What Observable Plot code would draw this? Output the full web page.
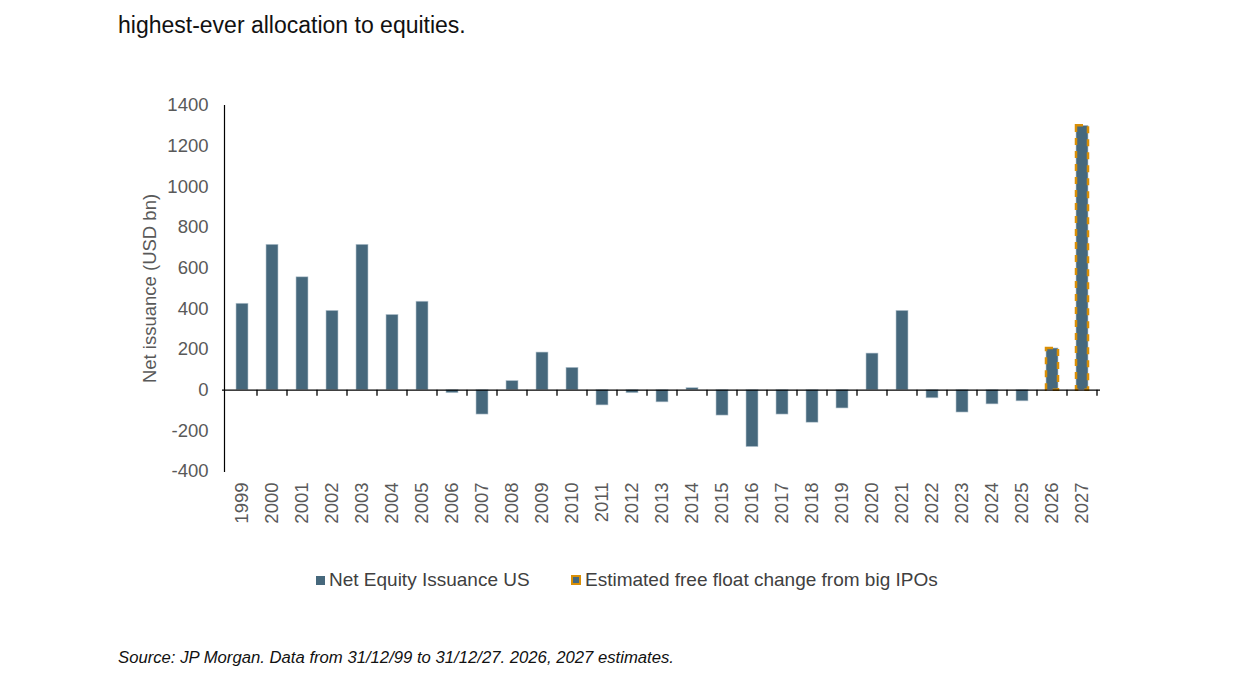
<!DOCTYPE html>
<html>
<head>
<meta charset="utf-8">
<script src="https://cdn.jsdelivr.net/npm/d3@7"></script>
<script src="https://cdn.jsdelivr.net/npm/@observablehq/plot@0.6"></script>
<style>
  html, body { margin: 0; padding: 0; background: #fff; }
  #page { position: relative; width: 1241px; height: 680px; font-family: "Liberation Sans", Arial, sans-serif; }
  #title { position: absolute; left: 118px; top: 12px; font-size: 23px; color: #111; white-space: nowrap; }
  #chart { position: absolute; left: 0; top: 60px; }
  #legend { position: absolute; left: 0; top: 569px; width: 1241px; font-size: 19px; color: #404040; }
  .item { position: absolute; top: 0; white-space: nowrap; display: flex; align-items: center; }
  .sw { display: inline-block; width: 9px; height: 9px; margin-right: 4px; box-sizing: border-box; }
  #caption { position: absolute; left: 118px; top: 648px; font-size: 16.7px; font-style: italic; color: #111; white-space: nowrap; }
</style>
</head>
<body>
<div id="page">
  <div id="title">highest-ever allocation to equities.</div>
  <div id="chart"></div>
  <div id="legend">
    <div class="item" style="left:316px"><span class="sw" style="background:#46687c"></span>Net Equity Issuance US</div>
    <div class="item" style="left:571px"><span class="sw" style="background:#46687c;border:2px solid #d98f06;width:10px;height:10px"></span>Estimated free float change from big IPOs</div>
  </div>
  <div id="caption">Source: JP Morgan. Data from 31/12/99 to 31/12/27. 2026, 2027 estimates.</div>
</div>
<script>
// Calendar years on the category axis
const years = [
  "1999","2000","2001","2002","2003","2004","2005","2006","2007","2008",
  "2009","2010","2011","2012","2013","2014","2015","2016","2017","2018",
  "2019","2020","2021","2022","2023","2024","2025","2026","2027"
];

// Net equity issuance in the US, USD bn (2026 and 2027 are estimates)
const netIssuance = [
  425, 715, 555, 390, 715, 370, 435, -15, -120, 45,
  185, 110, -75, -15, -60, 10, -125, -280, -120, -160,
  -90, 180, 390, -40, -110, -70, -55, 205, 1300
];

// Years whose totals include the estimated free float change from big IPOs
const ipoYears = ["2026", "2027"];
const ipoValues = [205, 1300];

// Value axis ticks
const yTicks = [-400, -200, 0, 200, 400, 600, 800, 1000, 1200, 1400];

const issuance = years.map((year, i) => ({year, value: netIssuance[i]}));
const ipo = ipoYears.map((year, i) => ({year, value: ipoValues[i]}));

const BLUE = "#46687c";
const ORANGE = "#d98f06";

// Small tick marks hanging below the zero line at each category boundary
function boundaryTicks(index, scales) {
  const x = scales.x, y = scales.y;
  const step = x.step(), bw = x.bandwidth();
  const y0 = y(0);
  const g = d3.create("svg:g").attr("stroke", "#000").attr("stroke-width", 1.3);
  for (const yr of years) {
    const xb = x(yr) + bw / 2 + step / 2;
    g.append("line").attr("x1", xb).attr("x2", xb).attr("y1", y0).attr("y2", y0 + 6);
  }
  return g.node();
}

const chart = Plot.plot({
  width: 1241,
  height: 480,
  marginTop: 45,
  marginBottom: 69,
  marginLeft: 224,
  marginRight: 141,
  style: {fontFamily: "'Liberation Sans', Arial, sans-serif", background: "transparent"},
  x: {type: "band", domain: years, paddingInner: 0.6, paddingOuter: 0.3},
  y: {domain: [-400, 1400]},
  marks: [
    Plot.barY(issuance, {x: "year", y: "value", fill: BLUE, stroke: "#b9c8d2", strokeWidth: 0.6}),
    Plot.barY(ipo, {x: "year", y: "value", fill: "none", stroke: ORANGE, strokeWidth: 2.5, strokeDasharray: "7,6"}),
    Plot.frame({anchor: "left", stroke: "#000", strokeWidth: 1.2}),
    Plot.ruleY([0], {stroke: "#000", strokeWidth: 1.3, insetLeft: -2}),
    boundaryTicks,
    Plot.axisY({
      ticks: yTicks, tickFormat: (d) => String(d), tickSize: 0, tickPadding: 16, fontSize: 18.5, color: "#595959",
      label: "Net issuance (USD bn)", labelAnchor: "center", labelArrow: "none", labelOffset: 82
    }),
    Plot.axisX({tickRotate: -90, tickSize: 0, tickPadding: 11, fontSize: 18.5, color: "#595959", label: null})
  ]
});

document.getElementById("chart").appendChild(chart);
</script>
</body>
</html>
